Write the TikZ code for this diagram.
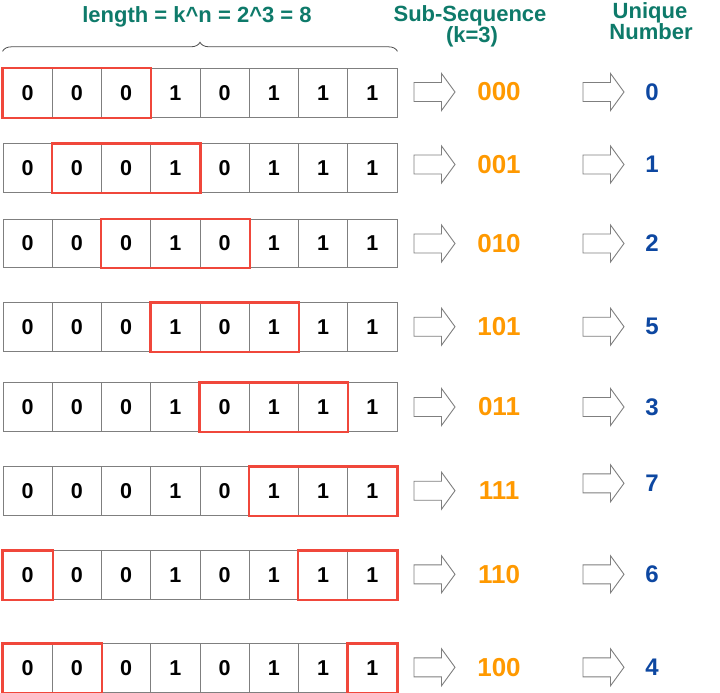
\documentclass[tikz,border=0pt]{standalone}
\usepackage{fontspec}
\setmainfont{Liberation Sans}
\usetikzlibrary{decorations.pathreplacing}
\definecolor{hdrgreen}{HTML}{0E7A6A}
\definecolor{suborange}{HTML}{FF9900}
\definecolor{numblue}{HTML}{0D47A1}
\definecolor{hlred}{HTML}{F0473B}
\definecolor{cellgray}{HTML}{7F7F7F}
\tikzset{
  cell/.style={draw=cellgray, line width=0.9pt, minimum width=49.25pt, minimum height=48.5pt,
    inner sep=0pt, font=\fontsize{21.5}{21.5}\selectfont\bfseries, text=black},
  hl/.style={draw=hlred, line width=2.4pt},
  hdr/.style={anchor=base, font=\fontsize{22}{22}\selectfont\bfseries, text=hdrgreen, inner sep=0pt},
  subtxt/.style={font=\fontsize{26}{26}\selectfont\bfseries, text=suborange, inner sep=0pt},
  numtxt/.style={font=\fontsize{24}{24}\selectfont\bfseries, text=numblue, inner sep=0pt},
  arrowline/.style={draw=cellgray, fill=white, line width=0.9pt, line join=miter},
  bracestyle/.style={draw=black!70, line width=0.8pt,
    decorate, decoration={brace, amplitude=9pt, raise=17pt}},
  blockarrow/.pic={\draw[arrowline] (-20.5,-9.5) -- (7,-9.5) -- (7,-18.5) -- (20.5,0)
    -- (7,18.5) -- (7,9.5) -- (-20.5,9.5) -- cycle;}
}
\begin{document}
\begin{tikzpicture}[x=1pt, y=-1pt]
\useasboundingbox (0,0) rectangle (720,693);

% headers
\node[hdr] (title) at (197,22.7) {length = k\textasciicircum n = 2\textasciicircum 3 = 8};
\node[hdr] (subA) at (470,22) {Sub-Sequence};
\node[hdr] (subB) at (472,43) {(k=3)};
\node[hdr] (uniA) at (650,18.5) {Unique};
\node[hdr] (uniB) at (651,39.3) {Number};

% cells
\foreach \r/\y in {1/93,2/168,3/243.5,4/327,5/407,6/491,7/575,8/668} {
  \foreach \v [count=\c] in {0,0,0,1,0,1,1,1} {
    \node[cell] (r\r-\c) at ({3+49.25*(\c-0.5)}, \y) {\v};
  }
}

% brace
\draw[bracestyle] (r1-1.north west) -- (r1-8.north east);

% highlights
\draw[hl] (r1-1.north west) rectangle (r1-3.south east);
\draw[hl] (r2-2.north west) rectangle (r2-4.south east);
\draw[hl] (r3-3.north west) rectangle (r3-5.south east);
\draw[hl] (r4-4.north west) rectangle (r4-6.south east);
\draw[hl] (r5-5.north west) rectangle (r5-7.south east);
\draw[hl] (r6-6.north west) rectangle (r6-8.south east);
\draw[hl] (r7-1.north west) rectangle (r7-1.south east);
\draw[hl] (r7-7.north west) rectangle (r7-8.south east);
\draw[hl] (r8-1.north west) rectangle (r8-2.south east);
\draw[hl] (r8-8.north west) rectangle (r8-8.south east);

% arrows and results
\foreach \r/\ya/\yb/\s/\n in {1/92/92/000/0, 2/164.5/164.5/001/1, 3/243.5/243.5/010/2,
    4/326.7/326.7/101/5, 5/407/407/011/3, 6/490.7/483.3/111/7,
    7/574.3/574.3/110/6, 8/667.3/667.3/100/4} {
  \pic at (434.5,\ya) {blockarrow};
  \node[subtxt] (s\r) at (499,\ya) {\s};
  \pic at (603.5,\yb) {blockarrow};
  \node[numtxt] (u\r) at (652,\yb) {\n};
}
\end{tikzpicture}
\end{document}
